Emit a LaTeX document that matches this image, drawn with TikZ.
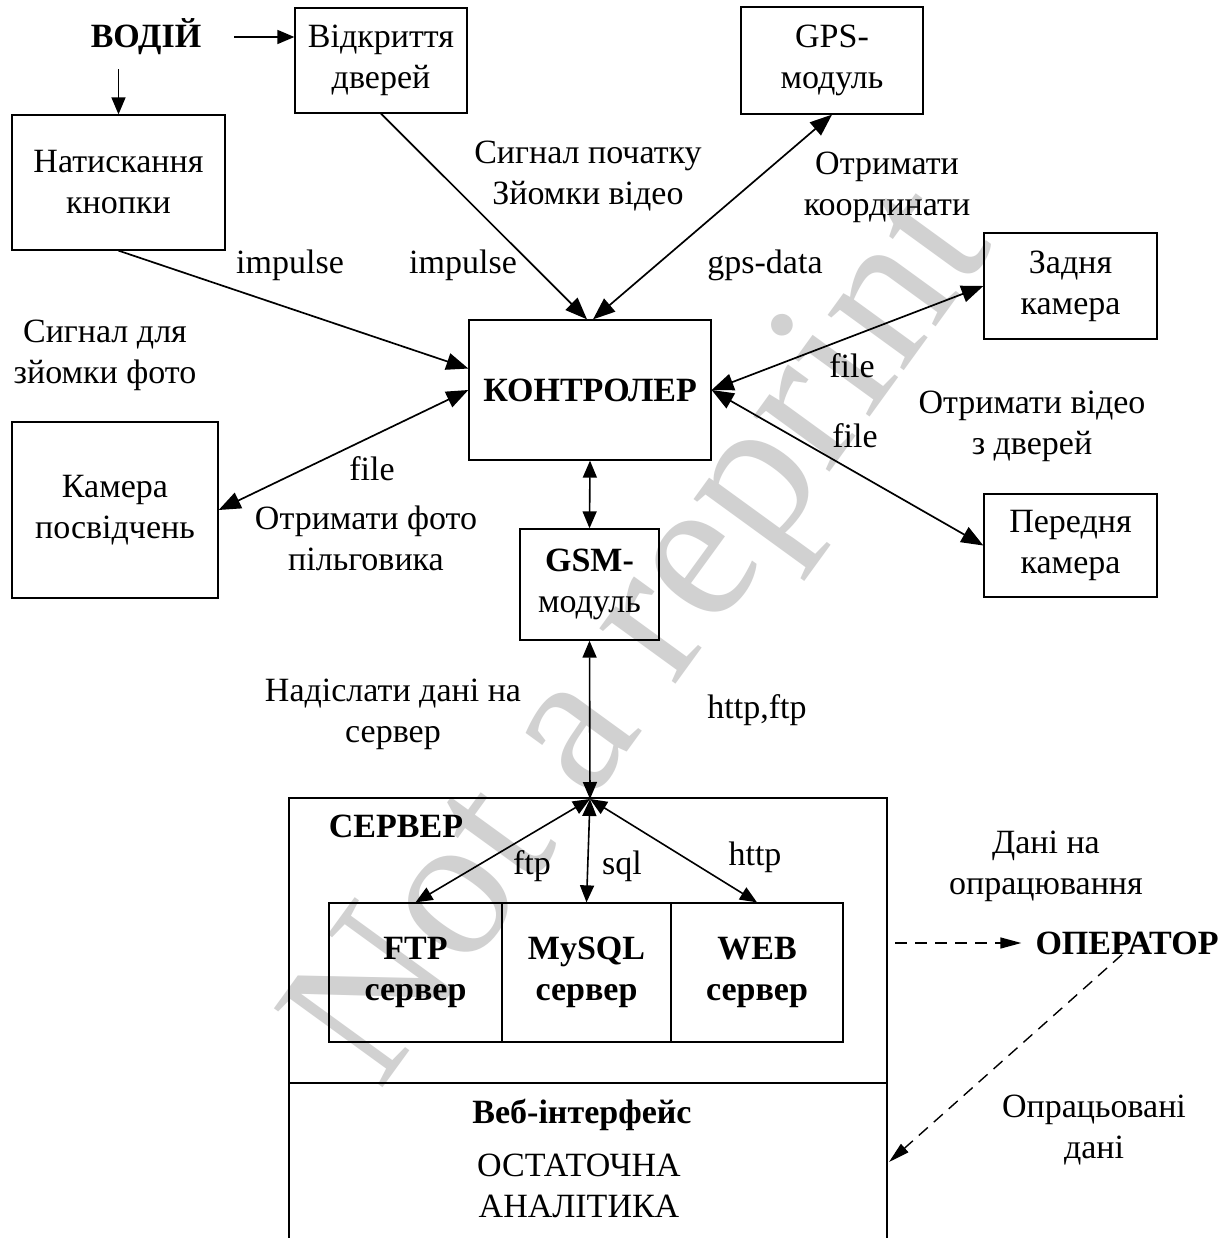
\documentclass[tikz,border=0pt]{standalone}
\usepackage{fontspec}
\setmainfont{Liberation Serif}
\usetikzlibrary{arrows.meta,calc}
\newcommand\fs{\fontsize{34}{41}\selectfont}

\begin{document}
\begin{tikzpicture}[x=1pt,y=-1pt,
  box/.style={draw, line width=1.3pt, align=center, font=\fs, inner sep=0pt},
  lbl/.style={align=center, font=\fs, inner sep=0pt},
  blbl/.style={lbl, font=\fs\bfseries},
  tip/.tip={Triangle[length=22pt,width=17pt]},
  stip/.tip={Triangle[length=17pt,width=14pt]},
  con/.style={line width=1.7pt, -tip},
  scon/.style={line width=1.7pt, -stip},
  bicon/.style={line width=1.7pt, tip-tip},
  sbicon/.style={line width=1.6pt, stip-stip},
  dcon/.style={line width=1.4pt, dash pattern=on 12pt off 8pt,
    -{Triangle[length=21pt,width=11pt]}}
]
\useasboundingbox (0,0) rectangle (1231,1238);
\fill[white] (0,0) rectangle (1231,1238);

% watermark
\node[rotate=54, text=black!18, inner sep=0pt,
  font=\fontsize{205}{205}\selectfont] (wm) at (650,642) {Not a reprint};

% driver and the blocks round the controller
\node[blbl] (vodii) at (146,37) {ВОДІЙ};
\node[box, minimum width=213pt, minimum height=135pt] (k) at (118.5,182.5) {Натискання\\кнопки};
\node[box, minimum width=172pt, minimum height=105pt] (vd) at (381,60.5) {Відкриття\\дверей};
\node[box, minimum width=182pt, minimum height=107pt] (g) at (832,60.5) {GPS-\\модуль};
\node[box, minimum width=242pt, minimum height=140pt, font=\fs\bfseries] (c) at (590,390) {КОНТРОЛЕР};
\node[box, minimum width=139pt, minimum height=111pt] (gsm) at (589.5,584.5) {\textbf{GSM-}\\модуль};
\node[box, minimum width=173pt, minimum height=106pt] (z) at (1070.5,286) {Задня\\камера};
\node[box, minimum width=173pt, minimum height=103pt] (p) at (1070.5,545.5) {Передня\\камера};
\node[box, minimum width=206pt, minimum height=176pt] (cp) at (115,510) {Камера\\посвідчень};

% server frame
\draw[line width=1.3pt] (289,1250) -- (289,798) -- (887,798) -- (887,1250);
\draw[line width=1.3pt] (289,1083) -- (887,1083);
\coordinate (st) at (590,799);
\coordinate (dstart) at (895,943);
\coordinate (opin) at (889,1162);
\node[box, minimum width=173pt, minimum height=139pt, font=\fs\bfseries] (ftp) at (415.5,972.5) {FTP\\сервер};
\node[box, minimum width=169pt, minimum height=139pt, font=\fs\bfseries] (sql) at (586.5,972.5) {MySQL\\сервер};
\node[box, minimum width=172pt, minimum height=139pt, font=\fs\bfseries] (web) at (757,972.5) {WEB\\сервер};
\node[blbl] (srv) at (396,826) {СЕРВЕР};
\node[blbl] (wi) at (582,1115) {Веб-інтерфейс};
\node[lbl] (an) at (579,1186) {ОСТАТОЧНА\\АНАЛІТИКА};
\node[blbl] (op) at (1127,943) {ОПЕРАТОР};

% labels
\node[lbl] at (588,176) {Сигнал початку\\Зйомки відео};
\node[lbl] at (887,187) {Отримати\\координати};
\node[lbl] at (290,265) {impulse};
\node[lbl] at (463,265) {impulse};
\node[lbl] at (765,265) {gps-data};
\node[lbl] at (105,355) {Сигнал для\\зйомки фото};
\node[lbl] at (852,366) {file};
\node[lbl] at (855,436) {file};
\node[lbl] at (1032,426) {Отримати відео\\з дверей};
\node[lbl] at (372,469) {file};
\node[lbl] at (366,538) {Отримати фото\\пільговика};
\node[lbl] at (393,714) {Надіслати дані на\\сервер};
\node[lbl] at (757,710) {http,ftp};
\node[lbl] at (532,866) {ftp};
\node[lbl] at (622,866) {sql};
\node[lbl] at (755,857) {http};
\node[lbl] at (1046,866) {Дані на\\опрацювання};
\node[lbl] at (1094,1130) {Опрацьовані\\дані};

% connectors
\draw[scon] ([xshift=33pt]vodii.east) -- (vodii.east -| vd.west);
\draw[scon] ([yshift=45pt]k.north) -- (k.north);
\draw[con] (k.south) -- (c.170);
\draw[con] (vd.south) -- ([xshift=-3pt]c.north);
\draw[bicon] (g.south) -- ([xshift=3pt]c.north);
\draw[bicon] (cp.east) -- (c.west);
\draw[bicon] (z.west) -- (c.east);
\draw[bicon] (p.west) -- (c.east);
\draw[sbicon] (c.south) -- (gsm.north);
\draw[sbicon] (gsm.south) -- (st);
\draw[sbicon] (st) -- (ftp.north);
\draw[sbicon] (st) -- (sql.north);
\draw[sbicon] (st) -- (web.north);
\draw[dcon] (dstart) -- ([xshift=-14pt]op.west);
\draw[dcon] ([xshift=-5pt]op.south) -- (opin);
\end{tikzpicture}
\end{document}
